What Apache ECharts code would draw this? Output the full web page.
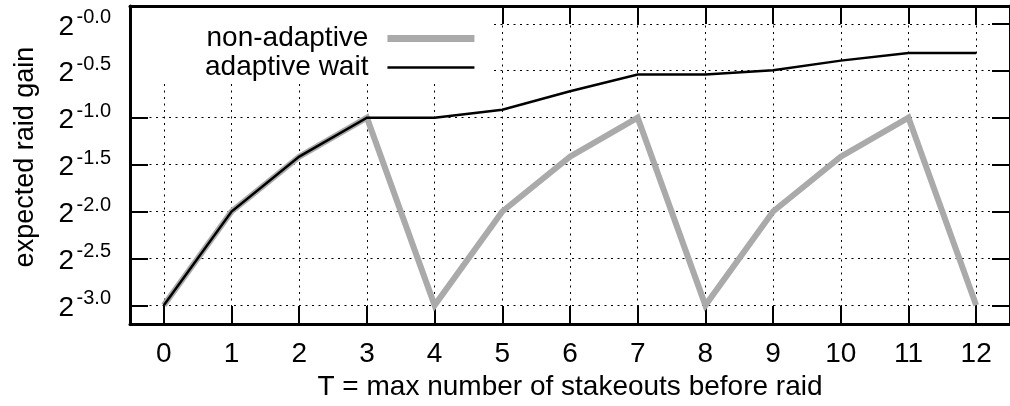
<!DOCTYPE html>
<html>
<head>
<meta charset="utf-8">
<script src="https://cdn.jsdelivr.net/npm/echarts@6/dist/echarts.min.js"></script>
<style>html,body{margin:0;padding:0;background:#fff}#c{width:1010px;height:406px}</style>
</head>
<body>
<div id="c"></div>
<script>
// T = max number of stakeouts before raid
var categories = [0, 1, 2, 3, 4, 5, 6, 7, 8, 9, 10, 11, 12];
// expected raid gain
var nonAdaptive = [0.125, 0.25, 0.375, 0.5, 0.125, 0.25, 0.375, 0.5, 0.125, 0.25, 0.375, 0.5, 0.125];
var adaptiveWait = [0.125, 0.25, 0.375, 0.5, 0.5, 0.53, 0.608, 0.688, 0.688, 0.71, 0.762, 0.806, 0.806];
// y tick exponents (labels shown as 2^-x.x)
var yTickExps = [-3.0, -2.5, -2.0, -1.5, -1.0, -0.5, 0.0];
var yTickLabels = ['-3.0', '-2.5', '-2.0', '-1.5', '-1.0', '-0.5', '-0.0'];
var yTickBase = '2';
var seriesNames = ['non-adaptive', 'adaptive wait'];
var xTitle = 'T = max number of stakeouts before raid';
var yTitle = 'expected raid gain';

var FONT = '"Liberation Sans", Arial, Helvetica, sans-serif';
var yTickValues = yTickExps.map(function (e) { return Math.pow(2, e); });
var Y_MIN = Math.pow(2, -3.2), Y_MAX = Math.pow(2, 0.19);

function expIndex(v) {
  var e = Math.log2(v), best = 0;
  for (var i = 1; i < yTickExps.length; i++) {
    if (Math.abs(yTickExps[i] - e) < Math.abs(yTickExps[best] - e)) best = i;
  }
  return best;
}

var tickStyle = { show: true, inside: true, length: 18, lineStyle: { color: '#000', width: 2 } };
var frameLine = { show: true, onZero: false, lineStyle: { color: '#000', width: 3 } };
var gridLine = { show: true, lineStyle: { color: '#000', width: 1, type: [2, 4.5] } };

var chart = echarts.init(document.getElementById('c'), null, { renderer: 'canvas' });
chart.setOption({
  animation: false,
  backgroundColor: '#fff',
  textStyle: { fontFamily: FONT },
  grid: { left: 130, top: 6, width: 881, height: 320, containLabel: false },
  legend: {
    orient: 'vertical',
    left: 132,
    top: 8,
    bottom: 'auto',
    right: 'auto',
    padding: [16, 13, 0, 73],
    backgroundColor: '#fff',
    align: 'right',
    itemWidth: 87,
    itemHeight: 14,
    itemGap: 0,
    textStyle: { fontSize: 28, lineHeight: 29, color: '#000', fontFamily: FONT, padding: [0, 14, 0, 0] },
    data: [
      { name: seriesNames[0], lineStyle: { width: 7, color: '#aaaaaa' }, itemStyle: { opacity: 0, borderWidth: 0 } },
      { name: seriesNames[1], lineStyle: { width: 2.5, color: '#000' }, itemStyle: { opacity: 0, borderWidth: 0 } }
    ]
  },
  xAxis: [{
    type: 'value', min: -0.5, max: 12.5, position: 'bottom',
    axisLine: frameLine,
    axisTick: Object.assign({ customValues: categories }, tickStyle),
    splitLine: gridLine,
    axisLabel: { customValues: categories, fontSize: 28, lineHeight: 28, color: '#000', margin: 16, fontFamily: FONT },
    name: xTitle, nameLocation: 'middle', nameGap: 47,
    nameTextStyle: { fontSize: 28, lineHeight: 28, color: '#000', fontFamily: FONT }
  }, {
    type: 'value', min: -0.5, max: 12.5, position: 'top',
    axisLine: frameLine,
    axisTick: Object.assign({ customValues: categories }, tickStyle),
    splitLine: { show: false },
    axisLabel: { show: false }
  }],
  yAxis: [{
    type: 'log', logBase: 2, min: Y_MIN, max: Y_MAX, position: 'left',
    axisLine: frameLine,
    axisTick: Object.assign({ customValues: yTickValues }, tickStyle),
    splitLine: gridLine,
    axisLabel: {
      customValues: yTickValues, margin: 56, color: '#000', fontSize: 28, lineHeight: 6,
      verticalAlign: 'top', fontFamily: FONT,
      formatter: function () { return yTickBase; }
    },
    name: yTitle, nameLocation: 'middle', nameGap: 90, nameRotate: 90,
    nameTextStyle: { fontSize: 27, lineHeight: 28, color: '#000', fontFamily: FONT, padding: [0, 0, 0, 16] }
  }, {
    type: 'log', logBase: 2, min: Y_MIN, max: Y_MAX, position: 'right',
    axisLine: frameLine,
    axisTick: Object.assign({ customValues: yTickValues }, tickStyle),
    splitLine: { show: false },
    axisLabel: { show: false }
  }, {
    type: 'log', logBase: 2, min: Y_MIN, max: Y_MAX, position: 'left', offset: 0,
    axisLine: { show: false },
    axisTick: { show: false },
    splitLine: { show: false },
    axisLabel: {
      customValues: yTickValues, margin: 19, color: '#000', fontSize: 20, lineHeight: 13,
      verticalAlign: 'bottom', fontFamily: FONT,
      formatter: function (v) { return yTickLabels[expIndex(v)]; }
    }
  }],
  series: [{
    name: seriesNames[0], type: 'line', symbol: 'none', z: 2,
    data: categories.map(function (t, i) { return [t, nonAdaptive[i]]; }),
    lineStyle: { color: '#aaaaaa', width: 6, join: 'miter' },
    itemStyle: { color: '#aaaaaa' }
  }, {
    name: seriesNames[1], type: 'line', symbol: 'none', z: 3,
    data: categories.map(function (t, i) { return [t, adaptiveWait[i]]; }),
    lineStyle: { color: '#000', width: 2.5, join: 'miter' },
    itemStyle: { color: '#000' }
  }]
});
</script>
</body>
</html>
